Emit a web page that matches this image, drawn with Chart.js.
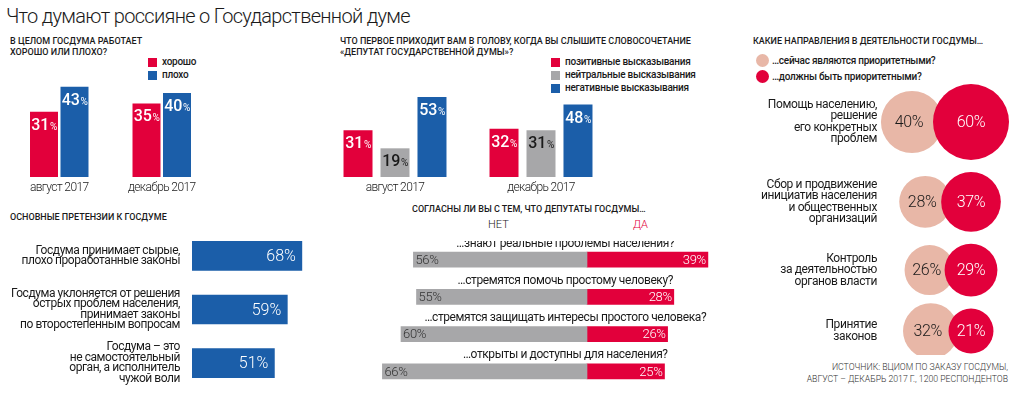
<!DOCTYPE html>
<html>
<head>
<meta charset="utf-8">
<script src="https://cdn.jsdelivr.net/npm/chart.js@4.4.1/dist/chart.umd.min.js"></script>
<style>
html, body { margin: 0; padding: 0; background: #fff; }
body { width: 1024px; height: 399px; position: relative; overflow: hidden; font-family: Roboto, sans-serif; color: #1a1a1a; }
.t { position: absolute; white-space: nowrap; line-height: 1; }
.hd { font-size: 9px; font-weight: 500; line-height: 10.5px; }
.lg { font-size: 10px; font-weight: 500; letter-spacing: -0.25px; }
.sq { position: absolute; width: 9px; height: 9px; }
.dot { position: absolute; width: 13px; height: 13px; border-radius: 50%; }
canvas { position: absolute; }
</style>
</head>
<body>

<div class="t" style="left:6px;top:6px;font-size:20px;font-weight:300;letter-spacing:-0.7px;">Что думают россияне о Государственной думе</div>

<div class="t hd" style="left:10px;top:36px;">В ЦЕЛОМ ГОСДУМА РАБОТАЕТ<br>ХОРОШО ИЛИ ПЛОХО?</div>
<div class="sq" style="left:148px;top:58px;background:#e2003b;"></div>
<div class="t lg" style="left:162px;top:57px;">хорошо</div>
<div class="sq" style="left:148px;top:71px;background:#1b5ea9;"></div>
<div class="t lg" style="left:162px;top:70px;">плохо</div>

<div class="t hd" style="left:340px;top:36px;">ЧТО ПЕРВОЕ ПРИХОДИТ ВАМ В ГОЛОВУ, КОГДА ВЫ СЛЫШИТЕ СЛОВОСОЧЕТАНИЕ<br>«ДЕПУТАТ ГОСУДАРСТВЕННОЙ ДУМЫ»?</div>
<div class="sq" style="left:551px;top:58px;background:#e2003b;"></div>
<div class="t lg" style="left:565px;top:57px;">позитивные высказывания</div>
<div class="sq" style="left:551px;top:71px;background:#a7a7a9;"></div>
<div class="t lg" style="left:565px;top:70px;">нейтральные высказывания</div>
<div class="sq" style="left:551px;top:84px;background:#1b5ea9;"></div>
<div class="t lg" style="left:565px;top:83px;">негативные высказывания</div>

<div class="t hd" style="left:10px;top:212px;">ОСНОВНЫЕ ПРЕТЕНЗИИ К ГОСДУМЕ</div>

<div class="t hd" style="left:412px;top:204px;">СОГЛАСНЫ ЛИ ВЫ С ТЕМ, ЧТО ДЕПУТАТЫ ГОСДУМЫ…</div>
<div class="t" style="left:488px;top:219px;font-size:11px;font-weight:300;">НЕТ</div>
<div class="t" style="left:633px;top:219px;font-size:11px;font-weight:300;color:#e2003b;">ДА</div>

<div class="t hd" style="left:753px;top:36px;">КАКИЕ НАПРАВЛЕНИЯ В ДЕЯТЕЛЬНОСТИ ГОСДУМЫ…</div>
<div class="dot" style="left:756px;top:54px;background:#e8b7a7;"></div>
<div class="t lg" style="left:772px;top:56px;">…сейчас являются приоритетными?</div>
<div class="dot" style="left:756px;top:70px;background:#e2003b;"></div>
<div class="t lg" style="left:772px;top:72px;">…должны быть приоритетными?</div>

<div class="t" style="right:16px;top:361px;font-size:8.7px;line-height:12px;text-align:right;font-weight:300;color:#333;">ИСТОЧНИК: ВЦИОМ ПО ЗАКАЗУ ГОСДУМЫ,<br>АВГУСТ – ДЕКАБРЬ 2017 Г., 1200 РЕСПОНДЕНТОВ</div>

<canvas id="work" width="205" height="120" style="left:8px;top:77px;"></canvas>
<canvas id="first" width="292" height="105" style="left:322px;top:92px;"></canvas>
<canvas id="claims" width="340" height="161" style="left:0px;top:229px;"></canvas>
<canvas id="agree" width="372" height="149" style="left:370px;top:241px;"></canvas>
<canvas id="priority" width="284" height="275" style="left:740px;top:80px;"></canvas>

<script>
// colours
const RED = '#e2003b';
const BLUE = '#1b5ea9';
const GRAY = '#a7a7a9';
const PINK = '#e8b7a7';
const INK = '#1a1a1a';
const FONT = 'Roboto, sans-serif';

// data
const periods = ['август 2017', 'декабрь 2017'];
const workGood = [31, 35];
const workBad = [43, 40];

const firstPositive = [31, 32];
const firstNeutral = [19, 31];
const firstNegative = [53, 48];

const claimLabels = [
    ['Госдума принимает сырые,', 'плохо проработанные законы'],
    ['Госдума уклоняется от решения', 'острых проблем населения,', 'принимает законы', 'по второстепенным вопросам'],
    ['Госдума – это', 'не самостоятельный', 'орган, а исполнитель', 'чужой воли']
];
const claimValues = [68, 59, 51];

const agreeQuestions = [
    '…знают реальные проблемы населения?',
    '…стремятся помочь простому человеку?',
    '…стремятся защищать интересы простого человека?',
    '…открыты и доступны для населения?'
];
const agreeNo = [56, 55, 60, 66];
const agreeYes = [39, 28, 26, 25];

const priorityLabels = [
    ['Помощь населению,', 'решение', 'его конкретных', 'проблем'],
    ['Сбор и продвижение', 'инициатив населения', 'и общественных', 'организаций'],
    ['Контроль', 'за деятельностью', 'органов власти'],
    ['Принятие', 'законов']
];
const priorityNow = [40, 28, 26, 32];
const priorityShould = [60, 37, 29, 21];

const base = {
    responsive: false,
    animation: false,
    events: [],
    layout: { padding: 0, autoPadding: false },
    plugins: { legend: { display: false }, tooltip: { enabled: false } }
};

// slightly condensed text for axis labels, like the original typeface
const tight = (px) => ({
    id: 'tight',
    beforeDraw(chart) { chart.ctx.letterSpacing = px; }
});

// number with a smaller % sign, centred on x
function drawSplitPct(ctx, v, x, y, color) {
    ctx.save();
    ctx.letterSpacing = '0px';
    ctx.fillStyle = color;
    ctx.textBaseline = 'alphabetic';
    ctx.font = '500 16px ' + FONT;
    const w1 = ctx.measureText(String(v)).width;
    ctx.font = '400 10px ' + FONT;
    const w2 = ctx.measureText('%').width;
    const sx = x - (w1 + w2) / 2;
    ctx.textAlign = 'left';
    ctx.font = '500 16px ' + FONT;
    ctx.fillText(String(v), sx, y + 6);
    ctx.font = '400 10px ' + FONT;
    ctx.fillText('%', sx + w1 + 0.5, y + 6);
    ctx.restore();
}

const columnLabels = {
    id: 'columnLabels',
    afterDatasetsDraw(chart) {
        const ctx = chart.ctx;
        chart.data.datasets.forEach((ds, i) => {
            chart.getDatasetMeta(i).data.forEach((bar, j) => {
                drawSplitPct(ctx, ds.data[j], bar.x, bar.y + 12, ds.labelColor);
            });
        });
    }
};

const columnScales = (max) => ({
    x: {
        grid: { display: false, drawTicks: false },
        border: { display: false },
        ticks: { font: { family: FONT, size: 12, weight: 300 }, color: INK, padding: 4 },
        afterFit: (s) => { s.height = 20; }
    },
    y: { display: false, min: 0, max: max }
});

function drawAll() {
    new Chart(document.getElementById('work'), {
        type: 'bar',
        data: {
            labels: periods,
            datasets: [
                { data: workGood, backgroundColor: RED, labelColor: '#fff' },
                { data: workBad, backgroundColor: BLUE, labelColor: '#fff' }
            ]
        },
        options: Object.assign({}, base, {
            datasets: { bar: { categoryPercentage: 0.595, barPercentage: 0.918 } },
            scales: columnScales(47.6)
        }),
        plugins: [tight('-0.6px'), columnLabels]
    });

    new Chart(document.getElementById('first'), {
        type: 'bar',
        data: {
            labels: periods,
            datasets: [
                { data: firstPositive, backgroundColor: RED, labelColor: '#fff' },
                { data: firstNeutral, backgroundColor: GRAY, labelColor: INK },
                { data: firstNegative, backgroundColor: BLUE, labelColor: '#fff' }
            ]
        },
        options: Object.assign({}, base, {
            datasets: { bar: { categoryPercentage: 0.76, barPercentage: 0.784 } },
            scales: columnScales(56.3)
        }),
        plugins: [tight('-0.6px'), columnLabels]
    });

    new Chart(document.getElementById('claims'), {
        type: 'bar',
        data: {
            labels: claimLabels,
            datasets: [{ data: claimValues, backgroundColor: BLUE, barThickness: 29 }]
        },
        options: Object.assign({}, base, {
            indexAxis: 'y',
            scales: {
                x: { display: false, min: 0, max: 91.6 },
                y: {
                    grid: { display: false, drawTicks: false },
                    border: { display: false },
                    ticks: { font: { family: FONT, size: 12, lineHeight: 0.88 }, color: INK, padding: 12 },
                    afterFit: (s) => { s.width = 192; s.paddingTop = 0; s.paddingBottom = 0; }
                }
            }
        }),
        plugins: [tight('-0.45px'), {
            id: 'claimValues',
            afterDatasetsDraw(chart) {
                const ctx = chart.ctx;
                ctx.save();
                ctx.letterSpacing = '0px';
                ctx.fillStyle = '#fff';
                ctx.font = '300 16px ' + FONT;
                ctx.textAlign = 'right';
                ctx.textBaseline = 'middle';
                chart.getDatasetMeta(0).data.forEach((bar, j) => {
                    ctx.fillText(claimValues[j] + '%', bar.x - 6, bar.y + 1);
                });
                ctx.restore();
            }
        }]
    });

    new Chart(document.getElementById('agree'), {
        type: 'bar',
        data: {
            labels: agreeQuestions,
            datasets: [
                { data: agreeNo.map(v => -v), backgroundColor: GRAY, barThickness: 15 },
                { data: agreeYes, backgroundColor: RED, barThickness: 15 }
            ]
        },
        options: Object.assign({}, base, {
            indexAxis: 'y',
            scales: {
                x: { display: false, stacked: true, min: -70, max: 50 },
                y: { display: false, stacked: true }
            }
        }),
        plugins: [{
            id: 'agreeLabels',
            afterDatasetsDraw(chart) {
                const ctx = chart.ctx;
                const xs = chart.scales.x;
                ctx.save();
                ctx.textBaseline = 'middle';
                chart.getDatasetMeta(0).data.forEach((bar, j) => {
                    ctx.letterSpacing = '-0.3px';
                    ctx.font = '300 13px ' + FONT;
                    ctx.fillStyle = '#333';
                    ctx.textAlign = 'left';
                    ctx.fillText(agreeNo[j] + '%', bar.x + 2, bar.y + 1);
                });
                chart.getDatasetMeta(1).data.forEach((bar, j) => {
                    ctx.letterSpacing = '-0.3px';
                    ctx.font = '300 13px ' + FONT;
                    ctx.fillStyle = '#fff';
                    ctx.textAlign = 'right';
                    ctx.fillText(agreeYes[j] + '%', bar.x - 2, bar.y + 1);
                    ctx.letterSpacing = '-0.4px';
                    ctx.font = '400 12px ' + FONT;
                    ctx.fillStyle = INK;
                    ctx.textAlign = 'center';
                    ctx.fillText(agreeQuestions[j], xs.getPixelForValue(-7), bar.y - 16);
                });
                ctx.restore();
            }
        }]
    });

    // bubbles: area proportional to value, rows stacked by the red circle size
    const K = 38 / Math.sqrt(60);
    const rNow = priorityNow.map(v => K * Math.sqrt(v));
    const rShould = priorityShould.map(v => K * Math.sqrt(v));
    const RED_X = 231, FIRST_Y = 42, ROW_GAP = 12, OVERLAP = 10;
    const rowY = [];
    rShould.forEach((r, i) => {
        rowY.push(i === 0 ? FIRST_Y : rowY[i - 1] + rShould[i - 1] + r + ROW_GAP);
    });

    new Chart(document.getElementById('priority'), {
        type: 'bubble',
        data: {
            datasets: [
                {
                    data: priorityShould.map((v, i) => ({ x: RED_X, y: rowY[i], r: rShould[i] })),
                    backgroundColor: RED, borderWidth: 0, textColor: '#fff', values: priorityShould
                },
                {
                    data: priorityNow.map((v, i) => ({ x: RED_X - rShould[i] - rNow[i] + OVERLAP, y: rowY[i], r: rNow[i] })),
                    backgroundColor: PINK, borderWidth: 0, textColor: INK, values: priorityNow
                }
            ]
        },
        options: Object.assign({}, base, {
            scales: {
                x: { display: false, min: 0, max: 284 },
                y: { display: false, min: 0, max: 275, reverse: true }
            }
        }),
        plugins: [{
            id: 'bubbleText',
            afterDatasetsDraw(chart) {
                const ctx = chart.ctx;
                ctx.save();
                ctx.textBaseline = 'middle';
                ctx.textAlign = 'center';
                ctx.letterSpacing = '-0.3px';
                ctx.font = '300 16px ' + FONT;
                chart.data.datasets.forEach((ds, i) => {
                    chart.getDatasetMeta(i).data.forEach((pt, j) => {
                        ctx.fillStyle = ds.textColor;
                        ctx.fillText(ds.values[j] + '%', pt.x - (i === 1 ? 3 : 0), pt.y + 1);
                    });
                });
                ctx.fillStyle = INK;
                ctx.textAlign = 'right';
                ctx.letterSpacing = '-0.4px';
                ctx.font = '400 12px ' + FONT;
                const lh = 11.5;
                chart.getDatasetMeta(0).data.forEach((pt, j) => {
                    const lines = priorityLabels[j];
                    const y0 = pt.y - (lines.length - 1) * lh / 2;
                    lines.forEach((ln, k) => ctx.fillText(ln, 137, y0 + k * lh));
                });
                ctx.restore();
            }
        }]
    });
}

// canvas text needs the fonts ready before the charts are drawn
Promise.all(['300 12px Roboto', '400 12px Roboto', '500 12px Roboto'].map(f => document.fonts.load(f)))
    .then(drawAll, drawAll);
</script>
</body>
</html>
